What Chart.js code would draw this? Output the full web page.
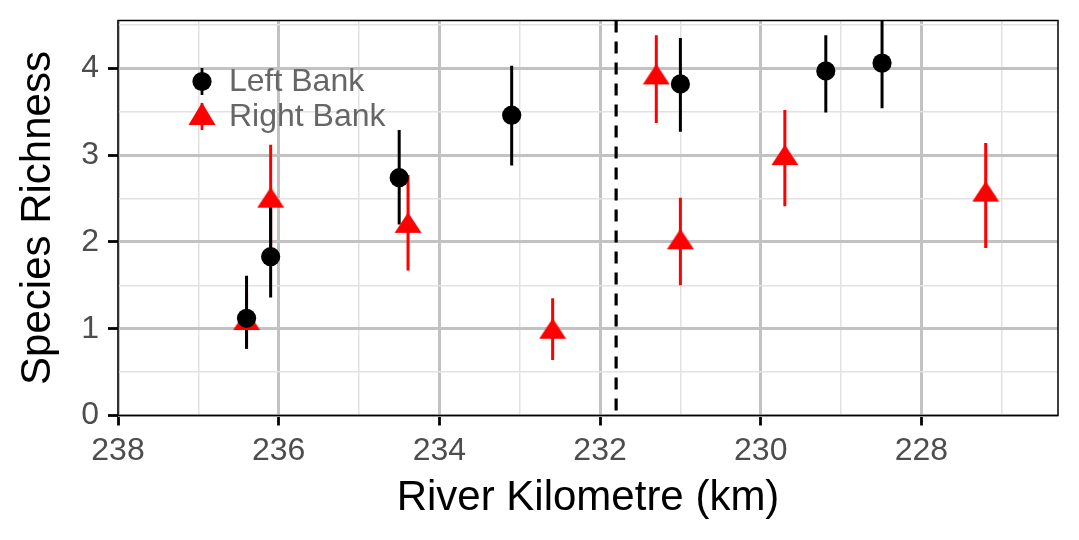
<!DOCTYPE html>
<html>
<head>
<meta charset="utf-8">
<title>Species Richness by River Kilometre</title>
<script src="https://cdn.jsdelivr.net/npm/chart.js@4.4.1/dist/chart.umd.min.js"></script>
<style>
  html, body { margin: 0; padding: 0; background: #fff; }
  #wrap { position: relative; width: 1079px; height: 540px; }
  #legend {
    position: absolute; left: 186px; top: 63px;
    font-family: "Liberation Sans", Arial, sans-serif; font-size: 32px; color: #666666;
  }
  #legend .row { display: flex; align-items: center; height: 35px; }
  #legend svg { width: 32px; height: 35px; margin-right: 11px; flex: none; }
</style>
</head>
<body>
<div id="wrap">
  <canvas id="chart"></canvas>
  <div id="legend">
    <div class="row">
      <svg viewBox="0 0 32 35"><line x1="16" y1="5" x2="16" y2="32" stroke="#000" stroke-width="2.8"/><circle cx="16" cy="18.5" r="9.6" fill="#000"/></svg>
      <span>Left Bank</span>
    </div>
    <div class="row">
      <svg viewBox="0 0 32 35"><line x1="16" y1="5" x2="16" y2="32" stroke="#f00" stroke-width="2.8"/><polygon points="16,4.5 29.5,27 2.5,27" fill="#f00"/></svg>
      <span>Right Bank</span>
    </div>
  </div>
</div>
<script>
// river kilometre of each sampling site, mean richness and interval ends
const leftKm    = [236.40, 236.10, 234.50, 233.10, 231.00, 229.19, 228.49];
const leftRich  = [1.12, 1.83, 2.74, 3.46, 3.82, 3.97, 4.06];
const leftLow   = [0.77, 1.36, 2.20, 2.88, 3.27, 3.49, 3.54];
const leftHigh  = [1.61, 2.40, 3.29, 4.03, 4.35, 4.38, 4.58];

const rightKm   = [236.40, 236.10, 234.39, 232.59, 231.30, 231.00, 229.70, 227.20];
const rightRich = [1.10, 2.51, 2.22, 1.00, 3.93, 2.03, 3.00, 2.58];
const rightLow  = [0.77, 1.91, 1.67, 0.64, 3.37, 1.50, 2.41, 1.93];
const rightHigh = [1.43, 3.12, 2.77, 1.35, 4.38, 2.51, 3.52, 3.14];

const breakKm = 231.8; // dashed reference line

const xMajor = [238, 236, 234, 232, 230, 228];
const xMinor = [237, 235, 233, 231, 229, 227];
const yMajor = [0, 1, 2, 3, 4];
const yMinor = [0.5, 1.5, 2.5, 3.5, 4.5];

const FONT = '"Liberation Sans", Arial, sans-serif';
const MAJOR_COL = '#c2c2c2', MINOR_COL = '#e2e2e2';

function toPoints(xs, ys) {
    return xs.map((x, i) => ({ x: x, y: ys[i] }));
}

// ggplot style filled triangle, centred on the point
function triangleImage(color) {
    const c = document.createElement('canvas');
    c.width = 28; c.height = 22;
    const g = c.getContext('2d');
    g.fillStyle = color;
    g.beginPath();
    g.moveTo(14, 0.5);
    g.lineTo(27.5, 21);
    g.lineTo(0.5, 21);
    g.closePath();
    g.fill();
    return c;
}

const overlay = {
    id: 'overlay',
    beforeDatasetsDraw(chart) {
        const { ctx, chartArea: a, scales: { x, y } } = chart;
        ctx.save();
        ctx.beginPath();
        ctx.rect(a.left, a.top, a.right - a.left, a.bottom - a.top);
        ctx.clip();

        // vertical dashed line
        const bx = x.getPixelForValue(breakKm);
        ctx.strokeStyle = '#000';
        ctx.lineWidth = 3.2;
        ctx.setLineDash([12, 9]);
        ctx.beginPath();
        ctx.moveTo(bx, a.top);
        ctx.lineTo(bx, a.bottom);
        ctx.stroke();
        ctx.setLineDash([]);

        // error bars, last dataset first so Left Bank ends up on top
        ctx.lineWidth = 3;
        for (let d = chart.data.datasets.length - 1; d >= 0; d--) {
            const ds = chart.data.datasets[d];
            ctx.strokeStyle = ds.errColor;
            ds.data.forEach((p, i) => {
                const px = x.getPixelForValue(p.x);
                ctx.beginPath();
                ctx.moveTo(px, y.getPixelForValue(ds.low[i]));
                ctx.lineTo(px, y.getPixelForValue(ds.high[i]));
                ctx.stroke();
            });
        }
        ctx.restore();
    },
    afterDatasetsDraw(chart) {
        const { ctx, chartArea: a } = chart;
        ctx.save();
        ctx.strokeStyle = '#000';
        ctx.lineWidth = 1.5;
        ctx.strokeRect(a.left, a.top, a.right - a.left, a.bottom - a.top);
        ctx.restore();
    }
};

const isMajor = (list) => (c) => c.tick && list.includes(c.tick.value);

new Chart(document.getElementById('chart'), {
    type: 'scatter',
    data: {
        datasets: [{
            label: 'Left Bank',
            data: toPoints(leftKm, leftRich),
            low: leftLow,
            high: leftHigh,
            errColor: '#000',
            pointStyle: 'circle',
            pointRadius: 9.6,
            pointBorderWidth: 0,
            backgroundColor: '#000',
            borderColor: '#000'
        }, {
            label: 'Right Bank',
            data: toPoints(rightKm, rightRich),
            low: rightLow,
            high: rightHigh,
            errColor: '#f00',
            pointStyle: triangleImage('#f00'),
            pointRadius: 12,
            pointBorderWidth: 0,
            backgroundColor: '#f00',
            borderColor: '#f00'
        }]
    },
    options: {
        responsive: true,
        maintainAspectRatio: false,
        animation: false,
        layout: { padding: { left: 0, right: 21, top: 20.5, bottom: 0 } },
        plugins: { legend: { display: false }, tooltip: { enabled: false } },
        scales: {
            x: {
                type: 'linear',
                reverse: true,
                min: 226.30,
                max: 238,
                afterBuildTicks: s => { s.ticks = xMajor.concat(xMinor).sort((a, b) => a - b).map(v => ({ value: v })); },
                afterFit: s => { s.height = 124.5; s.paddingLeft = 0; s.paddingRight = 0; },
                ticks: {
                    autoSkip: false, maxRotation: 0, padding: 6,
                    color: '#4d4d4d', font: { family: FONT, size: 32 },
                    callback: v => xMajor.includes(v) ? String(v) : ''
                },
                grid: {
                    color: c => isMajor(xMajor)(c) ? MAJOR_COL : MINOR_COL,
                    lineWidth: c => isMajor(xMajor)(c) ? 3 : 1.5,
                    tickColor: c => isMajor(xMajor)(c) ? '#000' : 'rgba(0,0,0,0)',
                    tickLength: 10,
                    tickWidth: 2.8
                },
                border: { display: false },
                title: {
                    display: true, text: 'River Kilometre (km)', color: '#000',
                    font: { family: FONT, size: 42 }, padding: { top: 0, bottom: 16 }
                }
            },
            y: {
                type: 'linear',
                min: 0,
                max: 4.551,
                afterBuildTicks: s => { s.ticks = yMajor.concat(yMinor).sort((a, b) => a - b).map(v => ({ value: v })); },
                afterFit: s => { s.width = 118; s.paddingTop = 0; s.paddingBottom = 0; },
                ticks: {
                    autoSkip: false, padding: 9,
                    color: '#4d4d4d', font: { family: FONT, size: 32 },
                    callback: v => yMajor.includes(v) ? String(v) : ''
                },
                grid: {
                    color: c => isMajor(yMajor)(c) ? MAJOR_COL : MINOR_COL,
                    lineWidth: c => isMajor(yMajor)(c) ? 3 : 1.5,
                    tickColor: c => isMajor(yMajor)(c) ? '#000' : 'rgba(0,0,0,0)',
                    tickLength: 10,
                    tickWidth: 2.8
                },
                border: { display: false },
                title: {
                    display: true, text: 'Species Richness', color: '#000',
                    font: { family: FONT, size: 42 }, padding: { top: 13, bottom: 0 }
                }
            }
        }
    },
    plugins: [overlay]
});
</script>
</body>
</html>
